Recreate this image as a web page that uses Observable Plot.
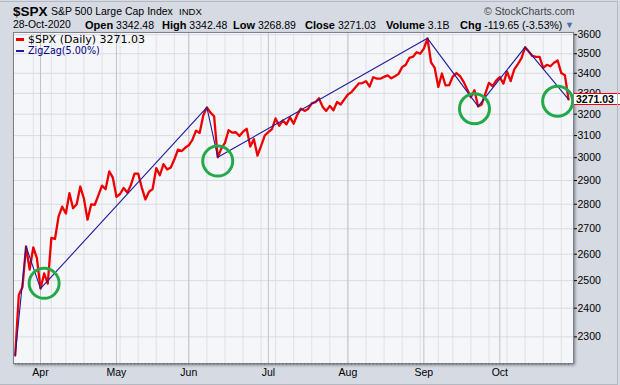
<!DOCTYPE html>
<html><head><meta charset="utf-8">
<script src="https://cdn.jsdelivr.net/npm/d3@7"></script>
<script src="https://cdn.jsdelivr.net/npm/@observablehq/plot@0.6"></script>
<style>
html,body{margin:0;padding:0;background:#d5dae3;}
#wrap{position:relative;width:620px;height:385px;background:#d5dae3;overflow:hidden;font-family:"Liberation Sans",Arial,sans-serif;}
.t{position:absolute;white-space:nowrap;color:#000;line-height:1;}
.b{font-weight:bold;font-size:11px;}
#shadow{position:absolute;left:13px;top:32px;width:560px;height:331px;box-shadow:2px 2px 3px rgba(0,0,0,0.45);background:#f5f6fa;}
#border{position:absolute;left:0;top:1px;width:617px;height:382px;border:1px solid #b4b8c0;border-left:none;pointer-events:none;}
#chart svg{position:absolute;left:0;top:0;}
</style></head><body><div id="wrap">
<div id="shadow"></div>
<div id="chart"></div>
<div class="t" style="left:13px;top:5px;font-size:13.5px;font-weight:bold;">$SPX</div>
<div class="t" style="left:51px;top:6px;font-size:10.5px;">S&amp;P 500 Large Cap Index</div>
<div class="t" style="left:179px;top:7px;font-size:9.6px;">INDX</div>
<div class="t" style="left:484px;top:6px;font-size:10.5px;color:#444;">© StockCharts.com</div>
<div class="t" style="left:13px;top:20px;font-size:10.4px;">28-Oct-2020</div>
<div class="t" style="left:85px;top:20px;font-size:10.5px;"><span class="b">Open</span> 3342.48</div>
<div class="t" style="left:162px;top:20px;font-size:10.5px;"><span class="b">High</span> 3342.48</div>
<div class="t" style="left:233px;top:20px;font-size:10.5px;"><span class="b">Low</span> 3268.89</div>
<div class="t" style="left:305px;top:20px;font-size:10.5px;"><span class="b">Close</span> 3271.03</div>
<div class="t" style="left:386px;top:20px;font-size:10.5px;"><span class="b">Volume</span> 3.1B</div>
<div class="t" style="left:460px;top:20px;font-size:10.5px;"><span class="b">Chg</span> -119.65 (-3.53%)</div>
<div class="t" style="left:565px;top:21px;font-size:9px;color:#4a6fa5;">▼</div>
<div style="position:absolute;left:16px;top:38px;width:8px;height:3px;background:#ee0000;"></div>
<div class="t" style="left:28px;top:34px;font-size:11px;font-family:'DejaVu Sans',sans-serif;">$SPX (Daily) 3271.03</div>
<div style="position:absolute;left:16px;top:50px;width:8px;height:2px;background:#1c1c9c;"></div>
<div class="t" style="left:28px;top:46px;font-size:9.6px;font-family:'DejaVu Sans',sans-serif;color:#000088;">ZigZag(5.00%)</div>
<div id="lastbox" class="t" style="left:574px;width:46px;height:10px;background:#fff;border-top:1px solid #e00;border-bottom:1px solid #e00;font-size:10.5px;font-weight:bold;padding-left:2px;line-height:10px;">3271.03</div>
<div id="border"></div>
</div>
<script>
const dates = [
"2020-03-23","2020-03-24","2020-03-25","2020-03-26","2020-03-27","2020-03-30","2020-03-31",
"2020-04-01","2020-04-02","2020-04-03","2020-04-06","2020-04-07","2020-04-08","2020-04-09","2020-04-13","2020-04-14","2020-04-15","2020-04-16","2020-04-17","2020-04-20","2020-04-21","2020-04-22","2020-04-23","2020-04-24","2020-04-27","2020-04-28","2020-04-29","2020-04-30",
"2020-05-01","2020-05-04","2020-05-05","2020-05-06","2020-05-07","2020-05-08","2020-05-11","2020-05-12","2020-05-13","2020-05-14","2020-05-15","2020-05-18","2020-05-19","2020-05-20","2020-05-21","2020-05-22","2020-05-26","2020-05-27","2020-05-28","2020-05-29",
"2020-06-01","2020-06-02","2020-06-03","2020-06-04","2020-06-05","2020-06-08","2020-06-09","2020-06-10","2020-06-11","2020-06-12","2020-06-15","2020-06-16","2020-06-17","2020-06-18","2020-06-19","2020-06-22","2020-06-23","2020-06-24","2020-06-25","2020-06-26","2020-06-29","2020-06-30",
"2020-07-01","2020-07-02","2020-07-06","2020-07-07","2020-07-08","2020-07-09","2020-07-10","2020-07-13","2020-07-14","2020-07-15","2020-07-16","2020-07-17","2020-07-20","2020-07-21","2020-07-22","2020-07-23","2020-07-24","2020-07-27","2020-07-28","2020-07-29","2020-07-30","2020-07-31",
"2020-08-03","2020-08-04","2020-08-05","2020-08-06","2020-08-07","2020-08-10","2020-08-11","2020-08-12","2020-08-13","2020-08-14","2020-08-17","2020-08-18","2020-08-19","2020-08-20","2020-08-21","2020-08-24","2020-08-25","2020-08-26","2020-08-27","2020-08-28","2020-08-31",
"2020-09-01","2020-09-02","2020-09-03","2020-09-04","2020-09-08","2020-09-09","2020-09-10","2020-09-11","2020-09-14","2020-09-15","2020-09-16","2020-09-17","2020-09-18","2020-09-21","2020-09-22","2020-09-23","2020-09-24","2020-09-25","2020-09-28","2020-09-29","2020-09-30",
"2020-10-01","2020-10-02","2020-10-05","2020-10-06","2020-10-07","2020-10-08","2020-10-09","2020-10-12","2020-10-13","2020-10-14","2020-10-15","2020-10-16","2020-10-19","2020-10-20","2020-10-21","2020-10-22","2020-10-23","2020-10-26","2020-10-27","2020-10-28"
];
const closes = [
2237.40,2447.33,2475.56,2630.07,2541.47,2626.65,2584.59,
2470.50,2526.90,2488.65,2663.68,2659.41,2749.98,2789.82,2761.63,2846.06,2783.36,2799.55,2874.56,2823.16,2736.56,2799.31,2797.80,2836.74,2878.48,2863.39,2939.51,2912.43,
2830.71,2842.74,2868.44,2848.42,2881.19,2929.80,2930.32,2870.12,2820.00,2852.50,2863.70,2953.91,2922.94,2971.61,2948.51,2955.45,2991.77,3036.13,3029.73,3044.31,
3055.73,3080.82,3122.87,3112.35,3193.93,3232.39,3207.18,3190.14,3002.10,3041.31,3066.59,3124.74,3113.49,3115.34,3097.74,3117.86,3131.29,3050.33,3083.76,3009.05,3053.24,3100.29,
3115.86,3130.01,3179.72,3145.32,3169.94,3152.05,3185.04,3155.22,3197.52,3226.56,3215.57,3224.73,3251.84,3257.30,3276.02,3235.66,3215.63,3239.41,3218.44,3258.44,3246.22,3271.12,
3294.61,3306.51,3327.77,3349.16,3351.28,3360.47,3333.69,3380.35,3373.43,3372.85,3381.99,3389.78,3374.85,3385.51,3397.16,3431.28,3443.62,3478.73,3484.55,3508.01,3500.31,
3526.65,3580.84,3455.06,3426.96,3331.84,3398.96,3339.19,3340.97,3383.54,3401.20,3385.49,3357.01,3319.47,3281.06,3315.57,3236.92,3246.59,3298.46,3351.60,3335.47,3363.00,
3380.80,3348.42,3408.60,3360.97,3419.44,3446.83,3477.14,3534.22,3511.93,3488.67,3483.34,3483.81,3426.92,3443.12,3435.56,3453.49,3465.39,3400.97,3390.68,3271.03
];
// ZigZag(5%) pivot dates
const zigDates = ["2020-03-23","2020-03-26","2020-04-01","2020-06-08","2020-06-11","2020-09-02","2020-09-23","2020-10-12","2020-10-28"];
// Annotation circles (date, value)
const circleDates = ["2020-04-02","2020-06-11","2020-09-22","2020-10-23"];
const circleValues = [2490, 2985, 3226, 3262];
const yTicks = [2300,2400,2500,2600,2700,2800,2900,3000,3100,3200,3300,3400,3500,3600];

const parse = d3.utcParse("%Y-%m-%d");
const dt = dates.map(parse);
const spx = dates.map((d, i) => ({i, date: dt[i], close: closes[i]}));
const zig = zigDates.map(d => spx[dates.indexOf(d)]);
const circles = circleDates.map((d, k) => ({i: dates.indexOf(d), v: circleValues[k]}));
const monthIdx = spx.filter(d => d.i > 0 && d.date.getUTCMonth() !== dt[d.i - 1].getUTCMonth()).map(d => d.i);
const weekIdx = spx.filter(d => d.i > 0 && d.date.getUTCDay() < dt[d.i - 1].getUTCDay()).map(d => d.i);
const fmtMonth = d3.utcFormat("%b");

const chart = Plot.plot({
  width: 620, height: 385,
  marginLeft: 13, marginRight: 47, marginTop: 32, marginBottom: 22,
  style: {background: "transparent", fontFamily: "'Liberation Sans', Arial, sans-serif", fontSize: "10.5px", color: "#000", overflow: "visible"},
  x: {type: "linear", domain: [-0.47, 154.38]},
  y: {type: "log", domain: [2211, 3612]},
  marks: [
    Plot.frame({fill: "#f5f6fa"}),
    Plot.ruleX(weekIdx, {stroke: "#dfe1e7"}),
    Plot.ruleY(yTicks, {stroke: "#d9dbe1"}),
    Plot.ruleX(monthIdx, {stroke: "#bfc2c9"}),
    Plot.line(spx, {x: "i", y: "close", stroke: "#ee0000", strokeWidth: 2.3, strokeLinejoin: "round"}),
    Plot.line(zig, {x: "i", y: "close", stroke: "#1c1c9c", strokeWidth: 1.1}),
    Plot.dot(circles, {x: "i", y: "v", r: 15, stroke: "#22aa48", strokeWidth: 3, fill: "none"}),
    Plot.frame({stroke: "#7d8088"}),
    Plot.axisY({anchor: "right", ticks: yTicks, tickSize: 3, tickPadding: 1, tickFormat: d => String(d), label: null}),
    Plot.axisX({ticks: spx.map(d => d.i), tickSize: 2, tickFormat: () => "", label: null, stroke: "#777"}),
    Plot.axisX({ticks: monthIdx, tickSize: 0, tickPadding: 5, tickFormat: i => fmtMonth(dt[i]), label: null})
  ]
});
document.getElementById("chart").appendChild(chart);
const ly = chart.scale("y").apply(closes[closes.length - 1]);
document.getElementById("lastbox").style.top = (ly - 6) + "px";
</script>
</body></html>
